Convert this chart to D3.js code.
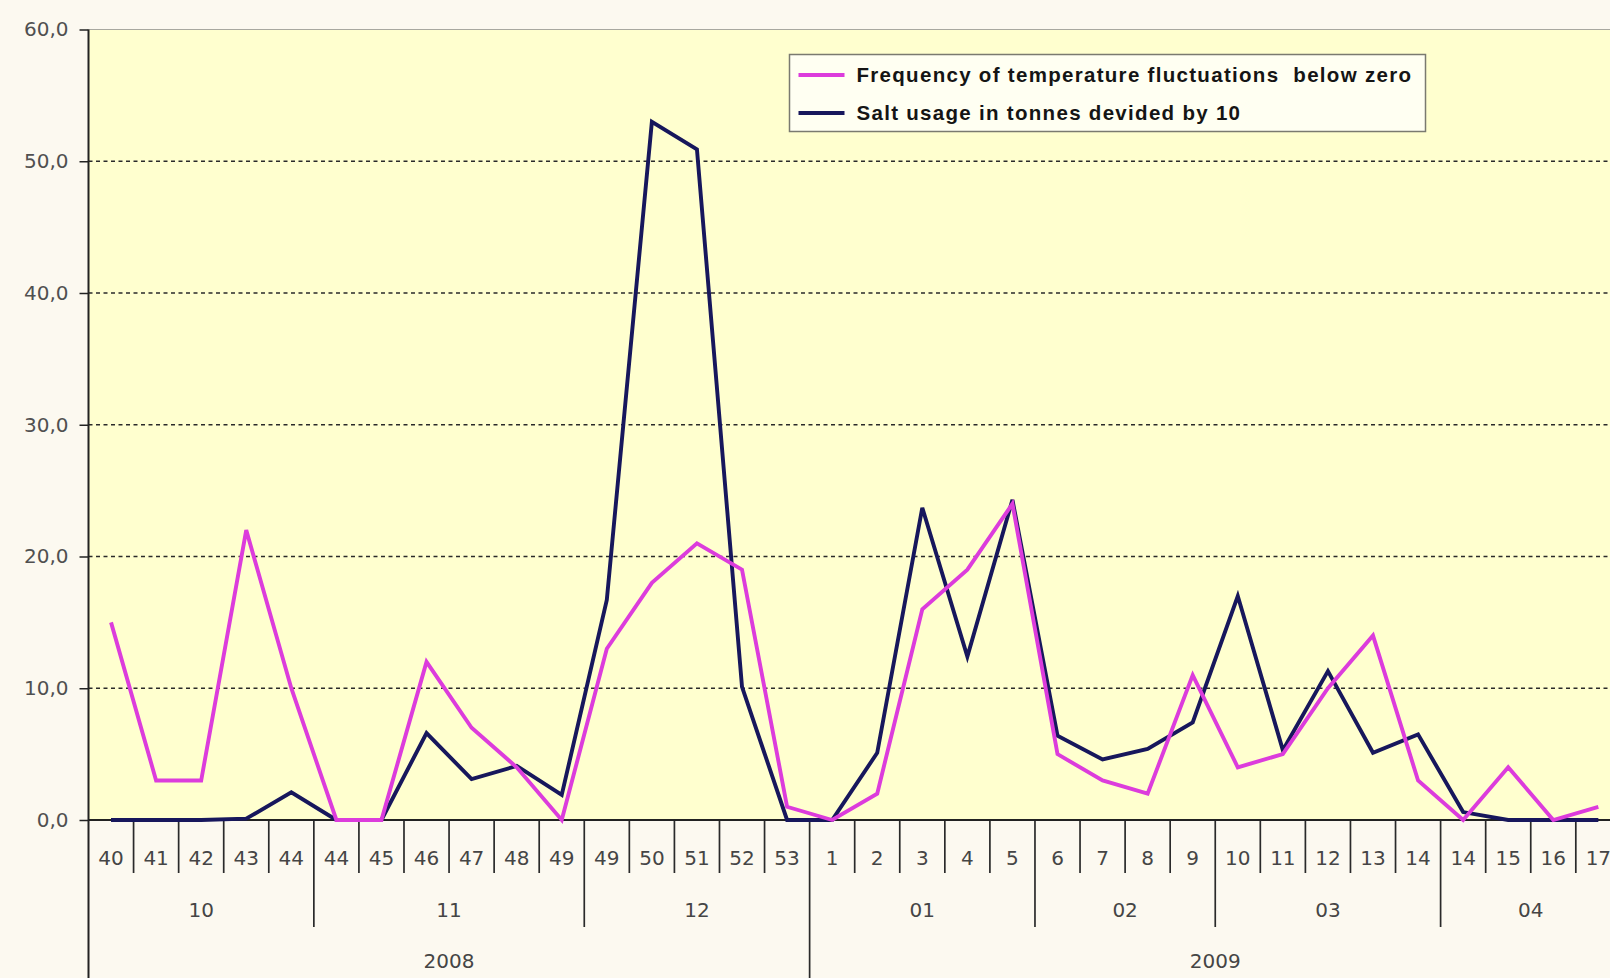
<!DOCTYPE html>
<html>
<head>
<meta charset="utf-8">
<script src="https://cdn.jsdelivr.net/npm/d3@7"></script>
<style>
  body { margin: 0; background: #fcf9f0; overflow: hidden; }
  svg { display: block; }
</style>
</head>
<body>
<div id="chart"></div>
<script>
// week numbers along the x axis (34 points, some weeks split over two months)
const weeks = ["40","41","42","43","44","44","45","46","47","48","49","49","50","51","52","53",
               "1","2","3","4","5","6","7","8","9","10","11","12","13","14","14","15","16","17"];
const months     = ["10","11","12","01","02","03","04"];
const monthSpans = [5, 6, 5, 5, 4, 5, 4];
const years      = ["2008","2009"];
const yearSpans  = [16, 18];

const frequency = [15, 3, 3, 22, 10, 0, 0, 12, 7, 4, 0, 13, 18, 21, 19, 1,
                   0, 2, 16, 19, 24, 5, 3, 2, 11, 4, 5, 10, 14, 3, 0, 4, 0, 1];
const salt      = [0, 0, 0, 0.1, 2.1, 0, 0, 6.6, 3.1, 4.1, 1.9, 16.7, 53.0, 50.9, 10.1, 0,
                   0, 5.1, 23.7, 12.4, 24.3, 6.4, 4.6, 5.4, 7.4, 17.0, 5.3, 11.3, 5.1, 6.5, 0.6, 0, 0, 0];
const yTicks    = [0, 10, 20, 30, 40, 50, 60];
const seriesNames  = ["Frequency of temperature fluctuations  below zero", "Salt usage in tonnes devided by 10"];
const seriesColors = ["#dc3cdc", "#17175c"];

const width      = 1610;
const height     = 978;
const plotLeft   = 88.5;
const plotTop    = 29.5;
const plotBottom = 820;
const bandW      = 45.07;

const svg = d3.select("#chart").append("svg")
  .attr("width", width)
  .attr("height", height);

svg.append("rect")
  .attr("width", width).attr("height", height)
  .attr("fill", "#fcf9f0");

const x = d3.scaleBand()
  .domain(d3.range(weeks.length))
  .range([plotLeft, plotLeft + bandW * weeks.length]);

const y = d3.scaleLinear()
  .domain([0, 60])
  .range([plotBottom, plotTop]);

// plot area
svg.append("rect")
  .attr("x", plotLeft).attr("y", plotTop)
  .attr("width", width - plotLeft).attr("height", plotBottom - plotTop)
  .attr("fill", "#ffffcf");

svg.append("line")
  .attr("x1", plotLeft).attr("x2", width)
  .attr("y1", plotTop).attr("y2", plotTop)
  .attr("stroke", "#a8a8a0").attr("stroke-width", 1.2);

// dashed grid
svg.append("g")
  .selectAll("line")
  .data(yTicks.filter(d => d > 0 && d < 60))
  .enter().append("line")
  .attr("x1", plotLeft).attr("x2", width)
  .attr("y1", d => y(d)).attr("y2", d => y(d))
  .attr("stroke", "#2a2a2a")
  .attr("stroke-width", 1.6)
  .attr("stroke-dasharray", "4,3.5");

// y axis
const yAxis = svg.append("g")
  .attr("transform", "translate(" + plotLeft + ",0)")
  .call(d3.axisLeft(y)
    .tickValues(yTicks)
    .tickSize(9)
    .tickPadding(11)
    .tickFormat(d => d3.format(".1f")(d).replace(".", ",")));
yAxis.select(".domain").remove();
yAxis.selectAll(".tick line").attr("stroke", "#222").attr("stroke-width", 1.5);
yAxis.selectAll("text")
  .attr("font-family", "DejaVu Sans")
  .attr("font-size", 20)
  .attr("fill", "#505050");

// x axis: week labels
const xAxis = svg.append("g")
  .attr("transform", "translate(0," + plotBottom + ")")
  .call(d3.axisBottom(x)
    .tickSize(0)
    .tickPadding(31)
    .tickFormat(i => weeks[i]));
xAxis.select(".domain").remove();
xAxis.selectAll("text")
  .attr("font-family", "DejaVu Sans")
  .attr("font-size", 20)
  .attr("fill", "#454545");

// separators below the axis
const monthEdges = d3.cumsum(monthSpans);
const yearEdges  = d3.cumsum(yearSpans);
const edgeDepth = i => yearEdges.includes(i) ? height : (monthEdges.includes(i) ? 927 : 873);

svg.append("g")
  .selectAll("line")
  .data(d3.range(1, weeks.length))
  .enter().append("line")
  .attr("x1", i => x(i)).attr("x2", i => x(i))
  .attr("y1", plotBottom).attr("y2", i => edgeDepth(i))
  .attr("stroke", "#2a2a2a")
  .attr("stroke-width", 1.7);

// month labels
let start = 0;
const monthPos = monthSpans.map(n => { const c = x(start) + n * bandW / 2; start += n; return c; });
svg.append("g")
  .selectAll("text")
  .data(months)
  .enter().append("text")
  .attr("x", (d, i) => monthPos[i])
  .attr("y", 910)
  .attr("dy", "0.36em")
  .attr("text-anchor", "middle")
  .attr("font-family", "DejaVu Sans")
  .attr("font-size", 20)
  .attr("fill", "#454545")
  .text(d => d);

// year labels
start = 0;
const yearPos = yearSpans.map(n => { const c = x(start) + n * bandW / 2; start += n; return c; });
svg.append("g")
  .selectAll("text")
  .data(years)
  .enter().append("text")
  .attr("x", (d, i) => yearPos[i])
  .attr("y", 961)
  .attr("dy", "0.36em")
  .attr("text-anchor", "middle")
  .attr("font-family", "DejaVu Sans")
  .attr("font-size", 20)
  .attr("fill", "#454545")
  .text(d => d);

// axis lines
svg.append("line")
  .attr("x1", plotLeft).attr("x2", plotLeft)
  .attr("y1", plotTop).attr("y2", height)
  .attr("stroke", "#222").attr("stroke-width", 2);
svg.append("line")
  .attr("x1", plotLeft).attr("x2", width)
  .attr("y1", plotBottom).attr("y2", plotBottom)
  .attr("stroke", "#222").attr("stroke-width", 2);

// series lines
const line = d3.line()
  .x((d, i) => x(i) + x.bandwidth() / 2)
  .y(d => y(d));

svg.append("path")
  .datum(salt)
  .attr("d", line)
  .attr("fill", "none")
  .attr("stroke", seriesColors[1])
  .attr("stroke-width", 3.9);

svg.append("path")
  .datum(frequency)
  .attr("d", line)
  .attr("fill", "none")
  .attr("stroke", seriesColors[0])
  .attr("stroke-width", 3.9);

// legend
const legend = svg.append("g").attr("transform", "translate(789.5,54.5)");
legend.append("rect")
  .attr("width", 636).attr("height", 77)
  .attr("fill", "#fffff2")
  .attr("stroke", "#7a7a70")
  .attr("stroke-width", 1.5);

const entries = legend.selectAll("g.entry")
  .data(seriesNames)
  .enter().append("g")
  .attr("class", "entry")
  .attr("transform", (d, i) => "translate(0," + (20.5 + i * 38) + ")");
entries.append("line")
  .attr("x1", 9).attr("x2", 55)
  .attr("stroke", (d, i) => seriesColors[i])
  .attr("stroke-width", 3.9);
entries.append("text")
  .attr("x", 67)
  .attr("dy", "0.36em")
  .attr("font-family", "Liberation Sans, Arial, sans-serif")
  .attr("font-weight", "bold")
  .attr("font-size", 20.5)
  .attr("letter-spacing", 1.3)
  .style("white-space", "pre")
  .attr("fill", "#151515")
  .text(d => d);
</script>
</body>
</html>
